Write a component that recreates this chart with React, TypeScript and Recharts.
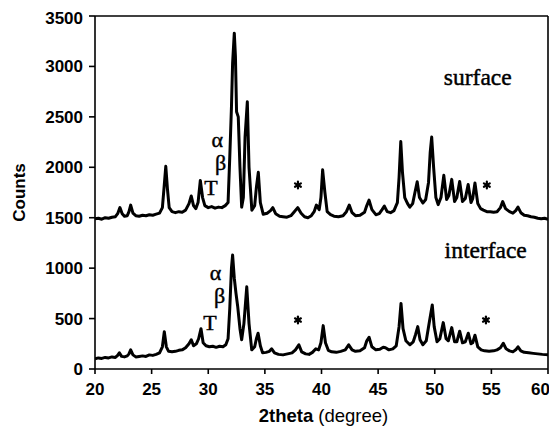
import React from 'react';
import { LineChart, Line, XAxis, YAxis, ReferenceLine, ReferenceDot } from 'recharts';

// Diffraction angle ticks (degrees) and count ticks
const thetaTicks = [20, 25, 30, 35, 40, 45, 50, 55, 60];
const countTicks = [0, 500, 1000, 1500, 2000, 2500, 3000, 3500];

// Surface pattern: [2theta, counts]
const surfacePattern: [number, number][] = [
  [20.0, 1490], [20.3, 1495], [20.6, 1485], [20.9, 1500], [21.2, 1495], [21.5, 1505],
  [21.8, 1510], [22.0, 1540], [22.2, 1600], [22.4, 1540], [22.6, 1515], [22.85, 1520],
  [23.0, 1560], [23.15, 1625], [23.35, 1545], [23.6, 1520], [23.9, 1515], [24.2, 1525],
  [24.5, 1520], [24.8, 1530], [25.1, 1525], [25.4, 1535], [25.7, 1545], [25.95, 1600],
  [26.1, 1800], [26.25, 2010], [26.4, 1780], [26.55, 1600], [26.8, 1560], [27.1, 1550],
  [27.4, 1560], [27.7, 1555], [28.0, 1575], [28.3, 1640], [28.5, 1715], [28.7, 1620],
  [28.9, 1590], [29.1, 1650], [29.3, 1870], [29.5, 1700], [29.7, 1620], [30.0, 1600],
  [30.3, 1610], [30.6, 1595], [30.9, 1605], [31.2, 1600], [31.5, 1620], [31.75, 1650],
  [31.9, 2100], [32.05, 2600], [32.15, 3030], [32.3, 3330], [32.4, 3100], [32.5, 2550],
  [32.65, 2500], [32.8, 2000], [32.95, 1605], [33.1, 1700], [33.25, 2300], [33.45, 2650],
  [33.6, 2000], [33.85, 1575], [34.1, 1620], [34.25, 1800], [34.42, 1950], [34.6, 1650],
  [34.85, 1535], [35.2, 1545], [35.5, 1570], [35.7, 1600], [35.95, 1540], [36.3, 1515],
  [36.6, 1510], [36.95, 1505], [37.3, 1520], [37.6, 1560], [37.9, 1600], [38.2, 1545],
  [38.5, 1510], [38.8, 1500], [39.1, 1520], [39.35, 1560], [39.55, 1625], [39.8, 1580],
  [39.95, 1700], [40.1, 1975], [40.3, 1750], [40.5, 1560], [40.8, 1530], [41.1, 1515],
  [41.5, 1510], [41.9, 1520], [42.2, 1560], [42.45, 1625], [42.7, 1550], [43.0, 1520],
  [43.4, 1525], [43.8, 1555], [44.0, 1620], [44.2, 1675], [44.45, 1580], [44.8, 1530],
  [45.1, 1540], [45.35, 1580], [45.55, 1615], [45.8, 1560], [46.1, 1550], [46.4, 1570],
  [46.7, 1650], [46.85, 1900], [47.0, 2255], [47.15, 1950], [47.35, 1700], [47.6, 1640],
  [47.8, 1605], [48.05, 1640], [48.25, 1750], [48.45, 1857], [48.65, 1700], [48.95, 1645],
  [49.2, 1680], [49.45, 1850], [49.6, 2150], [49.73, 2300], [49.9, 2000], [50.1, 1700],
  [50.3, 1630], [50.55, 1700], [50.8, 1920], [51.05, 1680], [51.25, 1720], [51.5, 1880],
  [51.75, 1660], [51.95, 1700], [52.2, 1860], [52.45, 1660], [52.7, 1690], [52.95, 1830],
  [53.2, 1650], [53.35, 1690], [53.55, 1845], [53.8, 1640], [54.05, 1590], [54.3, 1575],
  [54.6, 1560], [54.9, 1560], [55.2, 1555], [55.5, 1560], [55.8, 1600], [56.0, 1660],
  [56.25, 1590], [56.6, 1560], [56.9, 1545], [57.15, 1570], [57.35, 1605], [57.6, 1550],
  [57.9, 1525], [58.2, 1520], [58.5, 1510], [58.8, 1505], [59.1, 1495], [59.4, 1490],
  [59.7, 1495], [60.0, 1485],
];

// Interface pattern: [2theta, counts]
const interfacePattern: [number, number][] = [
  [20.0, 100], [20.3, 110], [20.6, 105], [20.9, 115], [21.2, 110], [21.5, 120],
  [21.8, 115], [22.0, 135], [22.15, 160], [22.35, 125], [22.6, 120], [22.85, 130],
  [23.0, 150], [23.15, 190], [23.35, 140], [23.6, 120], [23.9, 125], [24.2, 130],
  [24.5, 125], [24.8, 140], [25.1, 135], [25.4, 145], [25.7, 160], [25.95, 220],
  [26.12, 370], [26.3, 220], [26.5, 175], [26.8, 170], [27.1, 175], [27.4, 185],
  [27.7, 190], [28.0, 210], [28.3, 250], [28.5, 290], [28.7, 230], [28.95, 250],
  [29.15, 300], [29.36, 400], [29.55, 260], [29.8, 230], [30.1, 220], [30.4, 225],
  [30.7, 215], [31.0, 225], [31.3, 220], [31.55, 240], [31.75, 300], [31.9, 600],
  [32.05, 1000], [32.15, 1130], [32.3, 900], [32.45, 750], [32.6, 620], [32.8, 400],
  [32.95, 290], [33.15, 450], [33.4, 815], [33.6, 450], [33.84, 190], [34.1, 220],
  [34.25, 300], [34.4, 355], [34.6, 230], [34.8, 160], [35.1, 165], [35.4, 175],
  [35.6, 200], [35.85, 160], [36.2, 145], [36.6, 140], [37.0, 150], [37.4, 160],
  [37.7, 190], [38.0, 240], [38.25, 170], [38.6, 150], [38.9, 145], [39.2, 165],
  [39.5, 200], [39.75, 190], [39.95, 260], [40.15, 430], [40.35, 260], [40.6, 185],
  [40.9, 170], [41.3, 165], [41.7, 175], [42.1, 190], [42.4, 240], [42.7, 190],
  [43.0, 175], [43.4, 180], [43.8, 210], [44.0, 280], [44.2, 315], [44.45, 220],
  [44.8, 190], [45.15, 195], [45.45, 215], [45.65, 210], [45.95, 190], [46.3, 200],
  [46.6, 230], [46.85, 420], [47.02, 650], [47.2, 400], [47.45, 280], [47.8, 240],
  [48.1, 270], [48.3, 340], [48.5, 420], [48.7, 290], [48.95, 240], [49.25, 280],
  [49.5, 450], [49.78, 635], [49.95, 420], [50.2, 270], [50.45, 300], [50.75, 460],
  [51.0, 300], [51.2, 280], [51.5, 410], [51.75, 270], [51.95, 270], [52.2, 375],
  [52.45, 260], [52.7, 270], [52.96, 355], [53.2, 250], [53.35, 260], [53.55, 335],
  [53.8, 220], [54.1, 190], [54.4, 180], [54.8, 175], [55.2, 180], [55.5, 190],
  [55.8, 210], [56.05, 255], [56.3, 200], [56.6, 180], [56.9, 170], [57.15, 190],
  [57.35, 220], [57.6, 180], [57.9, 165], [58.3, 160], [58.7, 155], [59.1, 150],
  [59.5, 145], [60.0, 140],
];

// Sample names and phase markers, anchored in data space (text baseline)
const sampleLabels: { text: string; theta: number; counts: number }[] = [
  { text: 'surface', theta: 53.8, counts: 2815 },
  { text: 'interface', theta: 54.5, counts: 1100 },
];
const phaseLabels: { text: string; theta: number; counts: number }[] = [
  { text: 'α', theta: 30.8, counts: 2200 },
  { text: 'β', theta: 31.1, counts: 1975 },
  { text: 'T', theta: 30.25, counts: 1725 },
  { text: 'α', theta: 30.65, counts: 885 },
  { text: 'β', theta: 31.0, counts: 655 },
  { text: 'T', theta: 30.15, counts: 390 },
];
// Impurity reflections marked with an asterisk
const starMarks: [number, number][] = [
  [37.92, 1824], [54.6, 1824], [37.92, 486], [54.52, 486],
];

const surfaceData = surfacePattern.map(([theta, counts]) => ({ theta, counts }));
const interfaceData = interfacePattern.map(([theta, counts]) => ({ theta, counts }));

const sansFont = '"Liberation Sans", Arial, sans-serif';
const serifFont = '"Liberation Serif", "Times New Roman", serif';

const textAt = (text: string, size: number) => (props: any) => {
  const vb = props.viewBox || {};
  const x = (vb.x ?? 0) + (vb.width ?? 0) / 2;
  const y = (vb.y ?? 0) + (vb.height ?? 0) / 2;
  return (
    <text x={x} y={y} textAnchor="middle" fontFamily={serifFont} fontSize={size}
      fill="#000" stroke="#000" strokeWidth={0.45}>
      {text}
    </text>
  );
};

const Asterisk = (props: any) => {
  const { cx, cy } = props;
  const r = 3.4;
  const arms = [90, 30, -30];
  return (
    <g stroke="#000" strokeWidth={2.2} strokeLinecap="round">
      {arms.map((a) => {
        const rad = (a * Math.PI) / 180;
        const dx = r * Math.cos(rad);
        const dy = r * Math.sin(rad);
        return <line key={a} x1={cx - dx} y1={cy - dy} x2={cx + dx} y2={cy + dy} />;
      })}
    </g>
  );
};

const XTitle = (props: any) => {
  const vb = props.viewBox;
  return (
    <text x={vb.x + vb.width / 2 + 2} y={vb.y + 53} textAnchor="middle" fontFamily={sansFont}
      fontSize={18.5} fill="#000">
      <tspan fontWeight="bold">2theta</tspan>
      <tspan> (degree)</tspan>
    </text>
  );
};

const YTitle = (props: any) => {
  const vb = props.viewBox;
  const x = 17;
  const y = vb.y + vb.height / 2;
  return (
    <text x={x} y={y} textAnchor="middle" fontFamily={sansFont} fontSize={17}
      fontWeight="bold" fill="#000" transform={`rotate(-90, ${x}, ${y})`}>
      Counts
    </text>
  );
};

const tickStyle = { fill: '#000', fontSize: 17, fontWeight: 'bold', fontFamily: sansFont };

export default function App() {
  return (
    <LineChart width={541} height={429} margin={{ top: 8, right: 1, bottom: 0, left: 0 }}>
      <XAxis
        type="number"
        dataKey="theta"
        domain={[20, 60]}
        ticks={thetaTicks}
        allowDataOverflow
        height={68}
        tickSize={5}
        tickMargin={9}
        tick={tickStyle}
        axisLine={{ stroke: '#000', strokeWidth: 1.6 }}
        tickLine={{ stroke: '#000', strokeWidth: 1.6 }}
        label={{ content: XTitle }}
      />
      <YAxis
        type="number"
        domain={[0, 3500]}
        ticks={countTicks}
        allowDataOverflow
        width={87}
        tickSize={6}
        tickMargin={6}
        tick={tickStyle}
        axisLine={{ stroke: '#000', strokeWidth: 1.6 }}
        tickLine={{ stroke: '#000', strokeWidth: 1.6 }}
        label={{ content: YTitle }}
      />
      <ReferenceLine y={3500} stroke="#000" strokeWidth={1.6} />
      <ReferenceLine x={60} stroke="#000" strokeWidth={1.6} />
      <Line data={surfaceData} dataKey="counts" type="linear" stroke="#000" strokeWidth={3}
        strokeLinejoin="round" dot={false} isAnimationActive={false} />
      <Line data={interfaceData} dataKey="counts" type="linear" stroke="#000" strokeWidth={3}
        strokeLinejoin="round" dot={false} isAnimationActive={false} />
      {sampleLabels.map((l) => (
        <ReferenceDot key={l.text} x={l.theta} y={l.counts} r={0} stroke="none" fill="none"
          label={{ content: textAt(l.text, 23.5) }} />
      ))}
      {phaseLabels.map((l, i) => (
        <ReferenceDot key={`p${i}`} x={l.theta} y={l.counts} r={0} stroke="none" fill="none"
          label={{ content: textAt(l.text, 22) }} />
      ))}
      {starMarks.map(([theta, counts], i) => (
        <ReferenceDot key={`s${i}`} x={theta} y={counts} r={3} shape={Asterisk} />
      ))}
    </LineChart>
  );
}
